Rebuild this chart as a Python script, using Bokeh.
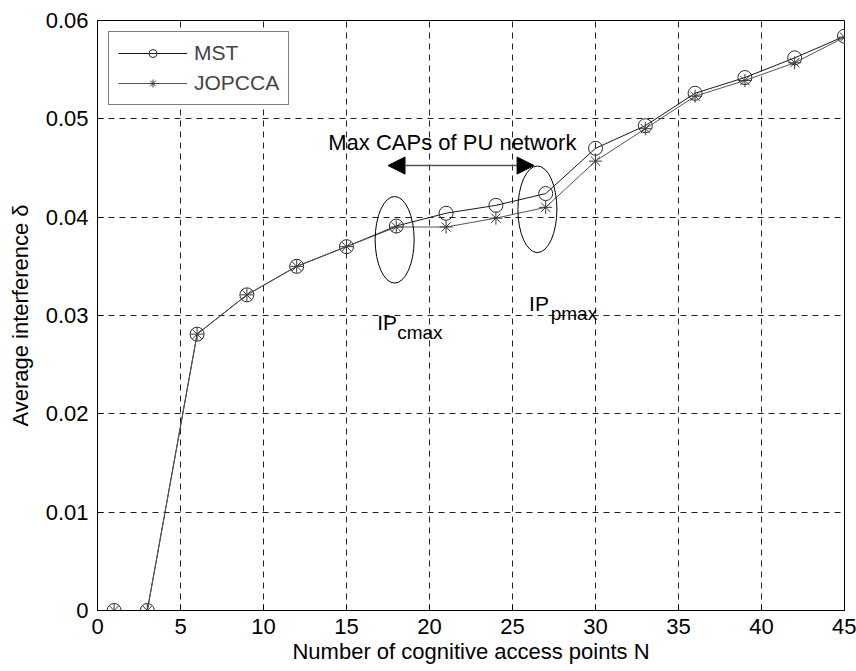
from bokeh.plotting import figure
from bokeh.models import (Range1d, Legend, LegendItem, Label, Arrow,
                          NormalHead, FixedTicker)
from bokeh.embed import file_html
from bokeh.resources import INLINE

# ---------------- data ----------------
n_points = [1, 3, 6, 9, 12, 15, 18, 21, 24, 27, 30, 33, 36, 39, 42, 45]
mst = [0.0, 0.0, 0.0281, 0.0321, 0.0350, 0.0370, 0.0391, 0.0404, 0.0412, 0.0424,
       0.0470, 0.0493, 0.0526, 0.0542, 0.0562, 0.0584]
jopcca = [0.0, 0.0, 0.0281, 0.0321, 0.0350, 0.0370, 0.0390, 0.0390, 0.0399, 0.0410,
          0.0457, 0.0490, 0.0523, 0.0539, 0.0557, 0.0583]

x_ticks = [0, 5, 10, 15, 20, 25, 30, 35, 40, 45]
y_ticks = [0, 0.01, 0.02, 0.03, 0.04, 0.05, 0.06]
y_tick_labels = ["0", "0.01", "0.02", "0.03", "0.04", "0.05", "0.06"]

FONT = "Liberation Sans"

p = figure(width=856, height=671, output_backend="svg", toolbar_location=None,
           x_range=Range1d(0, 45), y_range=Range1d(0, 0.06),
           min_border_left=97, min_border_right=12, min_border_top=20,
           min_border_bottom=61, background_fill_color="white",
           border_fill_color="white")
p.outline_line_color = "black"
p.outline_line_width = 1

# axes
for ax in (p.xaxis[0], p.yaxis[0]):
    ax.major_label_text_font = FONT
    ax.major_label_text_font_size = "22px"
    ax.major_label_text_color = "black"
    ax.axis_label_text_font = FONT
    ax.axis_label_text_font_size = "22px"
    ax.axis_label_text_font_style = "normal"
    ax.axis_label_text_color = "black"
    ax.major_tick_in = 6
    ax.major_tick_out = 0
    ax.minor_tick_in = 0
    ax.minor_tick_out = 0
    ax.axis_line_color = "black"
    ax.major_tick_line_color = "black"

p.xaxis.ticker = FixedTicker(ticks=x_ticks)
p.yaxis.ticker = FixedTicker(ticks=y_ticks)
p.yaxis.major_label_overrides = {t: s for t, s in zip(y_ticks, y_tick_labels)}
p.xaxis.axis_label = "Number of cognitive access points N"
p.yaxis.axis_label = "Average interference δ"
p.xaxis.major_label_standoff = 8
p.yaxis.major_label_standoff = 9
p.xaxis.axis_label_standoff = 2
p.yaxis.axis_label_standoff = 10

# grid
for g in (p.xgrid[0], p.ygrid[0]):
    g.grid_line_color = "#222222"
    g.grid_line_dash = "6 5"
    g.grid_line_width = 1
p.xgrid.ticker = FixedTicker(ticks=x_ticks)
p.ygrid.ticker = FixedTicker(ticks=y_ticks)

# series
l1 = p.line(n_points, mst, line_color="#1a1a1a", line_width=1)
s1 = p.scatter(n_points, mst, marker="circle", size=14, fill_color=None,
               line_color="#2a2a2a", line_width=1)
l2 = p.line(n_points, jopcca, line_color="#555555", line_width=1)
s2 = p.scatter(n_points, jopcca, marker="asterisk", size=13, line_color="#3a3a3a",
               line_width=1)

# annotations: ellipses
ell_x = [17.9, 26.5]
ell_y = [0.0377, 0.0408]
p.ellipse(x=ell_x, y=ell_y, width=2.35, height=0.0088, fill_color=None,
          line_color="black", line_width=1)

# arrow
arrow = Arrow(x_start=17.5, y_start=0.04525, x_end=26.3, y_end=0.04525,
              line_color="#555555", line_width=1.5,
              start=NormalHead(size=17, fill_color="black", line_color="black"),
              end=NormalHead(size=17, fill_color="black", line_color="black"))
p.add_layout(arrow)

p.add_layout(Label(x=13.9, y=0.0476, text="Max CAPs of PU network", text_font=FONT,
                   text_font_size="22px", text_color="black", text_baseline="alphabetic"))
p.add_layout(Label(x=16.85, y=0.0293, text="IP", text_font=FONT, text_font_size="21px",
                   text_color="black", text_baseline="alphabetic"))
p.add_layout(Label(x=18.05, y=0.0283, text="cmax", text_font=FONT, text_font_size="19px",
                   text_color="black", text_baseline="alphabetic"))
p.add_layout(Label(x=26.0, y=0.0312, text="IP", text_font=FONT, text_font_size="21px",
                   text_color="black", text_baseline="alphabetic"))
p.add_layout(Label(x=27.3, y=0.0302, text="pmax", text_font=FONT, text_font_size="19px",
                   text_color="black", text_baseline="alphabetic"))

# legend
legend = Legend(items=[LegendItem(label="MST", renderers=[l1, s1]),
                       LegendItem(label="JOPCCA", renderers=[l2, s2])],
                location="top_left", margin=11, padding=9, spacing=6,
                glyph_width=69, glyph_height=20, label_height=20, label_standoff=7,
                label_text_font=FONT, label_text_font_size="21px",
                border_line_color="black", border_line_width=1,
                background_fill_color="white", background_fill_alpha=1)
p.add_layout(legend)

open("out.html", "w").write(file_html(p, INLINE))
